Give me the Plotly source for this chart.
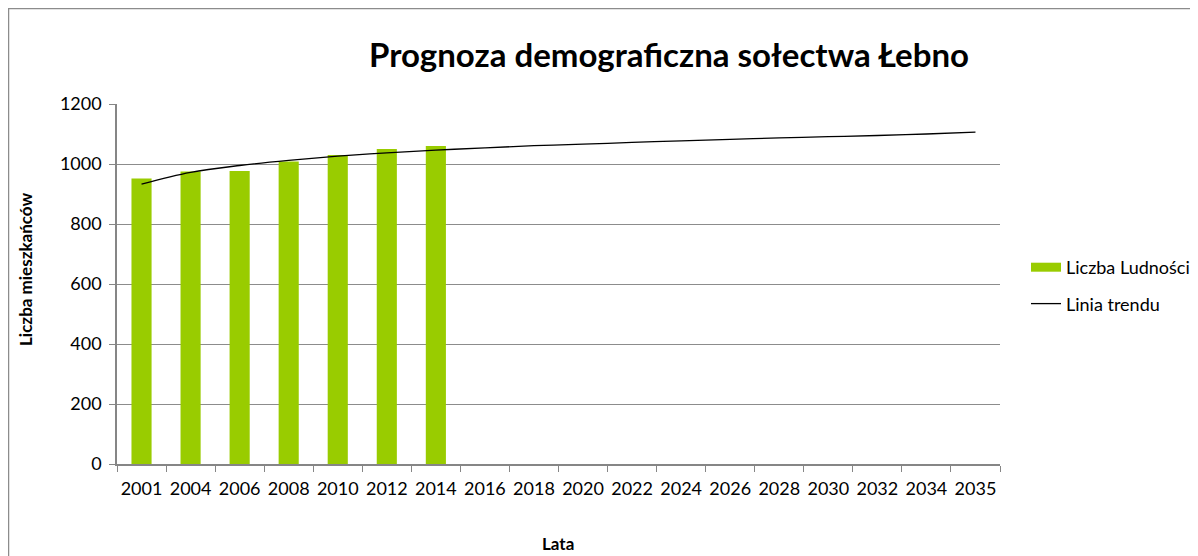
import plotly.graph_objects as go

years = ["2001", "2004", "2006", "2008", "2010", "2012", "2014", "2016", "2018",
         "2020", "2022", "2024", "2026", "2028", "2030", "2032", "2034", "2035"]
population = [952, 975, 977, 1008, 1030, 1050, 1060]
trend = [933, 972, 995, 1012, 1026, 1037, 1046, 1054, 1061, 1066, 1072, 1077,
         1082, 1087, 1091, 1095, 1100, 1106]

# page offset (body margin of the html page)
OFF = 8
W, H = 1198, 548
L, T = 117 - OFF, 104 - OFF
R = W - (1000 - OFF)
B = H - (464 - OFF)
pw, ph = W - L - R, H - T - B

def px(x):  # page x -> paper
    return (x - OFF - L) / pw

def py(y):  # page y -> paper
    return (H - B - (y - OFF)) / ph

FONT = "Lato, Open Sans, sans-serif"
GREEN = "#99CC00"

fig = go.Figure()
fig.add_trace(go.Bar(x=years[:len(population)], y=population, name="Liczba Ludności",
                     marker=dict(color=GREEN, line=dict(width=0)), showlegend=False))
fig.add_trace(go.Scatter(x=years, y=trend, name="Linia trendu", mode="lines",
                         line=dict(color="black", width=1.3, shape="spline"),
                         legendgroup="b", showlegend=False))
# legend entries
fig.add_trace(go.Scatter(x=[None], y=[None], name="Liczba Ludności", mode="lines",
                         line=dict(color=GREEN, width=9), legendgroup="a"))
fig.add_trace(go.Scatter(x=[None], y=[None], name="Linia trendu", mode="lines",
                         line=dict(color="black", width=1.3), legendgroup="b"))

fig.update_layout(
    width=W, height=H,
    margin=dict(l=L, r=R, t=T, b=B, autoexpand=False),
    plot_bgcolor="white", paper_bgcolor="white",
    bargap=0.59,
    font=dict(family=FONT, size=16, color="black"),
    title=dict(text="<b>Prognoza demograficzna sołectwa Łebno</b>",
               x=px(669), xref="paper", xanchor="center",
               y=1 - (55 - OFF) / H, yanchor="middle",
               font=dict(family=FONT, size=33, color="black")),
    legend=dict(x=px(1026), y=py(285.5), xanchor="left", yanchor="middle",
                font=dict(family=FONT, size=18), tracegroupgap=10,
                bgcolor="rgba(0,0,0,0)"),
    xaxis=dict(type="category", categoryarray=years, categoryorder="array",
               showgrid=False, showline=True, linecolor="#868686", linewidth=1.5,
               ticks="outside", tickson="boundaries", ticklen=6, tickcolor="#868686",
               tickfont=dict(size=18), tickangle=0, range=[-0.5, 17.5],
               ticklabelstandoff=8),
    yaxis=dict(range=[0, 1200], dtick=200, showgrid=True, gridcolor="#8c8c8c", gridwidth=1,
               showline=True, linecolor="#868686", linewidth=1.5,
               ticks="outside", ticklen=6, tickcolor="#868686",
               tickfont=dict(size=18), zeroline=False, ticklabelstandoff=4),
    showlegend=True,
)

fig.add_annotation(text="<b>Lata</b>", xref="paper", yref="paper",
                   x=px(558), y=py(543), xanchor="center", yanchor="middle",
                   showarrow=False, font=dict(family=FONT, size=17))
fig.add_annotation(text="<b>Liczba mieszkańców</b>", xref="paper", yref="paper",
                   x=px(25), y=py(270), xanchor="center", yanchor="middle",
                   textangle=-90, showarrow=False, font=dict(family=FONT, size=17))

fig.add_shape(type="line", xref="paper", yref="paper",
              x0=px(OFF), x1=px(W + OFF), y0=py(OFF + 0.5), y1=py(OFF + 0.5),
              line=dict(color="#8c8c8c", width=1.5))
fig.add_shape(type="line", xref="paper", yref="paper",
              x0=px(OFF + 0.5), x1=px(OFF + 0.5), y0=py(OFF), y1=py(H + OFF),
              line=dict(color="#8c8c8c", width=1.5))

fig.write_html("out.html")
